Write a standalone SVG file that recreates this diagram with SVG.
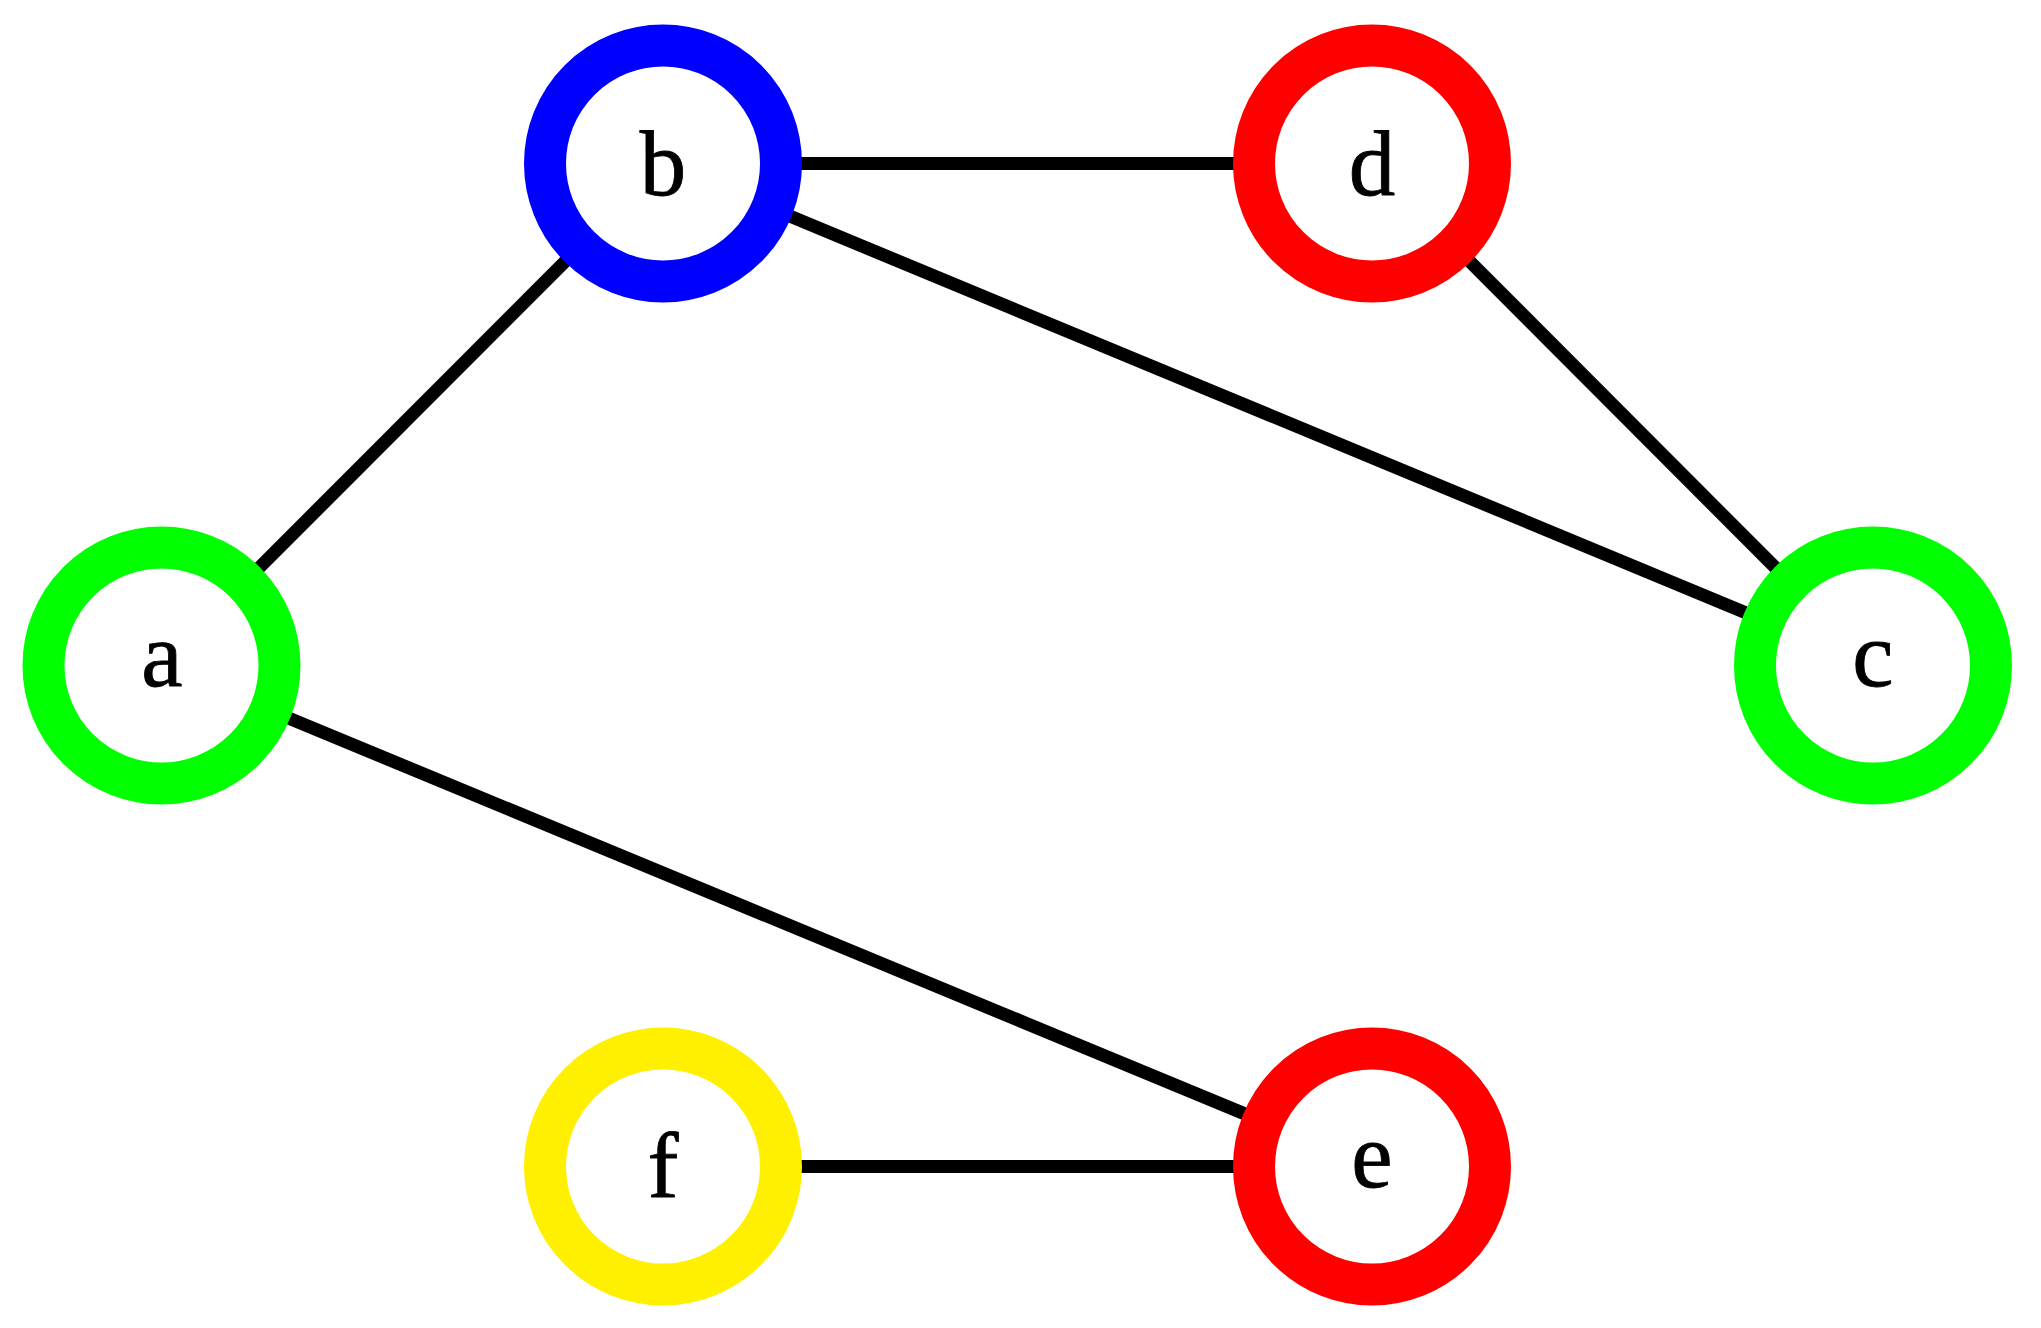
<svg xmlns="http://www.w3.org/2000/svg" width="2041" height="1328" viewBox="0 0 2041 1328">
<style>
.edge{stroke:#000;stroke-width:13;fill:none}
.node circle{fill:#fff;stroke-width:42}
.node text{font-family:"Liberation Serif","Times New Roman",serif;font-size:93px;fill:#000;stroke:#000;stroke-width:0.8;text-anchor:middle}
</style>
<rect width="2041" height="1328" fill="#fff"/>
<g id="edges">
<line class="edge" x1="161.5" y1="665.5" x2="663" y2="163.5"/>
<line class="edge" x1="663" y1="163.5" x2="1372" y2="163.5"/>
<line class="edge" x1="663" y1="163.5" x2="1873" y2="665.5"/>
<line class="edge" x1="1372" y1="163.5" x2="1873" y2="665.5"/>
<line class="edge" x1="161.5" y1="665.5" x2="1372" y2="1166.5"/>
<line class="edge" x1="663" y1="1166.5" x2="1372" y2="1166.5"/>
</g>
<g id="node-a" class="node"><circle cx="161.5" cy="665.5" r="118" stroke="#00ff00"/><text x="162" y="685.5">a</text></g>
<g id="node-b" class="node"><circle cx="663" cy="163.5" r="118" stroke="#0000ff"/><text x="663" y="195">b</text></g>
<g id="node-d" class="node"><circle cx="1372" cy="163.5" r="118" stroke="#ff0000"/><text x="1372" y="194.5">d</text></g>
<g id="node-c" class="node"><circle cx="1873" cy="665.5" r="118" stroke="#00ff00"/><text x="1873" y="685.5">c</text></g>
<g id="node-f" class="node"><circle cx="663" cy="1166.5" r="118" stroke="#fff000"/><text x="663" y="1197">f</text></g>
<g id="node-e" class="node"><circle cx="1372" cy="1166.5" r="118" stroke="#ff0000"/><text x="1372" y="1187">e</text></g>
</svg>
